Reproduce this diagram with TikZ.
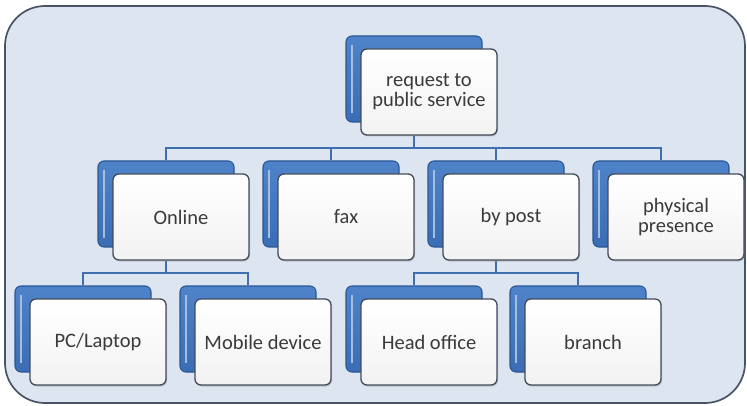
\documentclass[tikz,border=0pt]{standalone}
\usepackage{fontspec}
\setmainfont{Carlito}
\usepackage{xcolor}
\usepackage{tikz}
\usetikzlibrary{calc}
\usetikzlibrary{shapes,shadows}
\definecolor{framefill}{HTML}{DDE5F0}
\definecolor{framedraw}{HTML}{4A5363}
\definecolor{boxblue}{HTML}{3A6DB4}
\definecolor{boxbluetop}{HTML}{4E82C9}
\definecolor{boxblueedge}{HTML}{2A5694}
\definecolor{linkblue}{HTML}{3F6FAE}
\definecolor{textgray}{HTML}{3A3A3A}
\tikzstyle{backbox} = [rounded corners=6pt, draw=boxblueedge, line width=1.1pt,
	top color=boxbluetop, bottom color=boxblue, minimum width=136pt, minimum height=86pt, inner sep=0pt,
	path picture={\draw[white!55!boxblue, line width=2.5pt]
		([xshift=6pt,yshift=-9pt]path picture bounding box.north west) --
		([xshift=6pt,yshift=9pt]path picture bounding box.south west);}]
\tikzstyle{frontbox} = [rounded corners=6pt, draw=framedraw!90!black, line width=1.3pt,
	top color=white, bottom color=white!90!gray, minimum width=136pt, minimum height=86pt, inner sep=0pt,
	drop shadow={shadow xshift=1pt, shadow yshift=-1.5pt, opacity=0.35},
	text=textgray, align=center, font=\fontsize{20.5}{20}\selectfont]
\tikzstyle{link} = [draw=linkblue, line width=1.9pt]
\pgfdeclarelayer{background}
\pgfsetlayers{background,main}

\begin{document}
\begin{tikzpicture}[x=1pt,y=-1pt]
	\useasboundingbox (0,0) rectangle (747,406);
	\begin{pgfonlayer}{background}
		\draw[fill=framefill, draw=framedraw, line width=1.7pt, rounded corners=40pt] (5,6) rectangle (745,403);
	\end{pgfonlayer}

	% boxes: blue card behind, white card in front
	\foreach \n/\x/\y/\t in {req/429/92/{request to\\public service},
		online/181/217/Online, fax/346/217/fax, post/511/217/by post, phys/676/217/{physical\\presence},
		pc/98/342/{PC/Laptop}, mobile/263/342/Mobile device, head/429/342/Head office, branch/593/342/branch}
	{
		\node[backbox] (\n-b) at (\x-15,\y-13) {};
		\node[frontbox] (\n) at (\x,\y) {\t};
	}

	\begin{pgfonlayer}{background}
		\foreach \p/\c in {req/online, req/fax, req/post, req/phys, online/pc, online/mobile, post/head, post/branch}
		{
			\draw[link] (\p-b |- \p.south) -- ++(0,12) -| (\c-b.north);
		}
	\end{pgfonlayer}
\end{tikzpicture}
\end{document}
